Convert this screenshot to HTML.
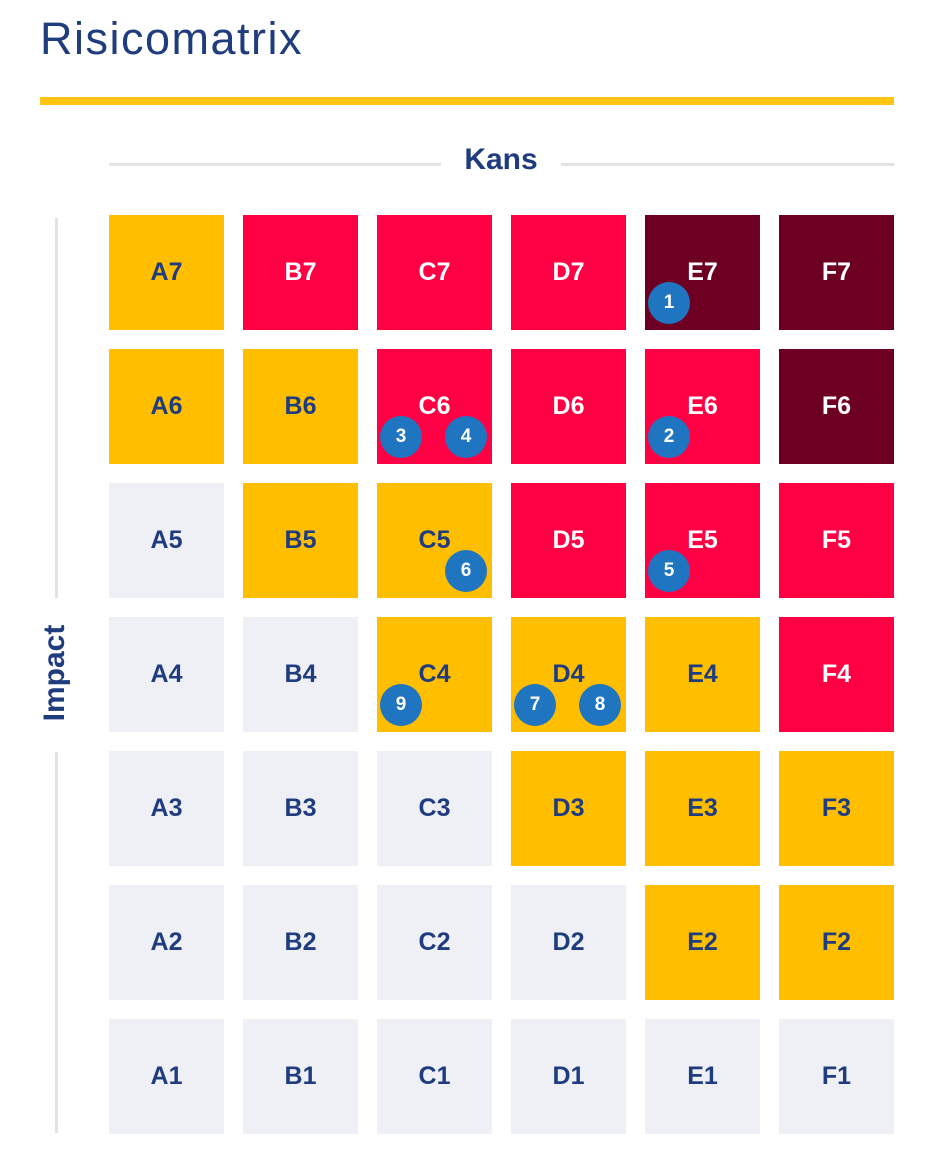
<!DOCTYPE html>
<html><head><meta charset="utf-8"><style>
body{margin:0;width:938px;height:1175px;background:#fff;position:relative;overflow:hidden;font-family:"Liberation Sans",sans-serif}
.t{position:absolute;left:40px;top:13px;font-size:45px;color:#1f3c7e;letter-spacing:1.5px}
.bar{position:absolute;left:40px;top:97px;width:854px;height:8px;background:#ffc510}
.gl{position:absolute;background:#e3e3e3}
.k{position:absolute;left:441px;width:120px;top:143px;text-align:center;font-size:30px;font-weight:bold;color:#1f3c7e}
.imp{position:absolute;left:-5px;top:656px;width:120px;text-align:center;font-size:30px;font-weight:bold;color:#1f3c7e;transform:rotate(-90deg)}
.c{position:absolute;width:115px;height:115px;display:flex;align-items:center;justify-content:center;font-size:25px;font-weight:bold;color:#1f3c7e}
.y{background:#ffbe00}.r{background:#ff0044;color:#fff}.d{background:#6d0022;color:#fff}.g{background:#eff0f6}
.n{position:absolute;width:42px;height:42px;border-radius:50%;background:#1f75c0;color:#fff;font-size:19px;font-weight:bold;display:flex;align-items:center;justify-content:center}
</style></head><body>
<div class="t">Risicomatrix</div>
<div class="bar"></div>
<div class="gl" style="left:109px;top:163px;width:332px;height:3px"></div>
<div class="gl" style="left:561px;top:163px;width:333px;height:3px"></div>
<div class="k">Kans</div>
<div class="gl" style="left:55px;top:218px;width:3px;height:380px"></div>
<div class="gl" style="left:55px;top:752px;width:3px;height:381px"></div>
<div class="imp">Impact</div>
<div id="g"></div>
<script>
var m=[
"yrrrdd","yyrrrd","gyyrrr","ggyyyr","gggyyy","ggggyy","gggggg"];
var h="",L="ABCDEF";
for(var r=0;r<7;r++)for(var c=0;c<6;c++){
h+='<div class="c '+m[r][c]+'" style="left:'+(109+c*134)+'px;top:'+(215+r*134)+'px">'+L[c]+(7-r)+'</div>';}
var n=[[1,669,303],[2,669,437],[3,401,437],[4,466,437],[5,669,571],[6,466,571],[7,535,705],[8,600,705],[9,401,705]];
n.forEach(function(p){h+='<div class="n" style="left:'+(p[1]-21)+'px;top:'+(p[2]-21)+'px">'+p[0]+'</div>';});
document.getElementById("g").innerHTML=h;
</script>
</body></html>
